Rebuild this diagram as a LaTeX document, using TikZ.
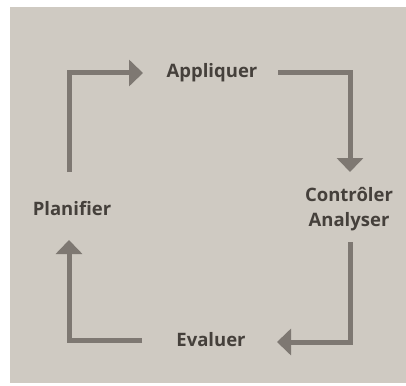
\documentclass[tikz,border=0pt]{standalone}
\usepackage{fontspec}
\setmainfont{Open Sans}
\usetikzlibrary{arrows.meta}
\definecolor{paper}{HTML}{CFCAC2}
\definecolor{ink}{HTML}{45403B}
\definecolor{arrowgrey}{HTML}{7E7872}
\tikzset{
  lbl/.style={text=ink, font=\bfseries\fontsize{18.5}{25}\selectfont, align=center, inner sep=0pt},
  arr/.style={draw=arrowgrey, line width=5pt, -{Triangle[width=26pt,length=14pt]}},
}
\begin{document}
\begin{tikzpicture}[x=1pt,y=-1pt]
\useasboundingbox (0,0) rectangle (406,385);
\fill[white] (0,0) rectangle (406,385);
\fill[paper] (10,7) rectangle (406,383);
\node[lbl] (app) at (212,73) {Appliquer};
\node[lbl] (ctrl) at (349,209) {Contrôler\\Analyser};
\node[lbl] (eval) at (211,340) {Evaluer};
\node[lbl] (plan) at (72,209) {Planifier};
% connector end points
\coordinate (a1s) at (69,172);
\coordinate (a1e) at (143,73);
\coordinate (a2s) at (278,73);
\coordinate (a2e) at (350,172);
\coordinate (a3s) at (350,242);
\coordinate (a3e) at (277,342);
\coordinate (a4s) at (142,340);
\coordinate (a4e) at (69,240);
\draw[arr] (a1s) |- (a1e);
\draw[arr] (a2s) -| (a2e);
\draw[arr] (a3s) |- (a3e);
\draw[arr] (a4s) -| (a4e);
\end{tikzpicture}
\end{document}
